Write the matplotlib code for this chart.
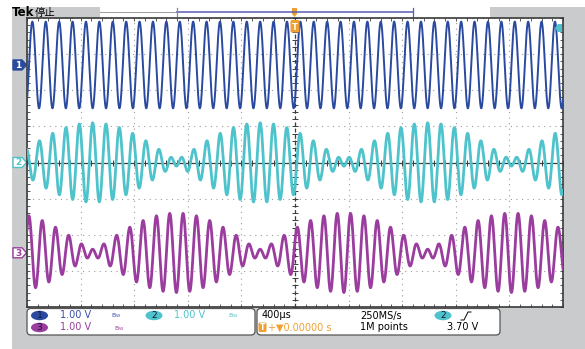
import numpy as np
import matplotlib.pyplot as plt
from matplotlib.patches import Rectangle, FancyBboxPatch, Polygon, Ellipse
from matplotlib.ticker import MultipleLocator

W, H = 585, 349

# scope settings
TIME_PER_DIV_MS = 0.4
N_HDIV, N_VDIV = 10, 8

# ch1: plain sine
CH1_FREQ_KHZ = 10.0
CH1_AMP_DIV = 1.2
CH1_OFFSET_DIV = 2.7
CH1_PEAK_DIV = 0.1

# ch2 / ch3: two tones, ch2 = sum, ch3 = difference (beats)
TONE_FREQS_KHZ = [10.4, 9.6]
TONE_AMPS_DIV = [0.6, 0.5]
TONE_REF_DIV = -0.65
CH2_OFFSET_DIV = 0.0
CH3_OFFSET_DIV = -2.5

CH_OFFSETS = [CH1_OFFSET_DIV, CH2_OFFSET_DIV, CH3_OFFSET_DIV]
CH_COLORS = ['#2a4aa0', '#4ec3cb', '#9a3d9e']
BG_GREY = '#c9cbcc'
ORANGE = '#f0a030'

# screen area in pixels (left, top, right, bottom)
SX0, SY0, SX1, SY1 = 27, 18, 563, 307

t_div = np.linspace(-N_HDIV / 2, N_HDIV / 2, 6000)
t_ms = t_div * TIME_PER_DIV_MS
ch1 = CH1_OFFSET_DIV + CH1_AMP_DIV * np.cos(2 * np.pi * CH1_FREQ_KHZ * (t_ms - CH1_PEAK_DIV * TIME_PER_DIV_MS))
tau = t_ms - TONE_REF_DIV * TIME_PER_DIV_MS
tone_a = TONE_AMPS_DIV[0] * np.cos(2 * np.pi * TONE_FREQS_KHZ[0] * tau)
tone_b = TONE_AMPS_DIV[1] * np.cos(2 * np.pi * TONE_FREQS_KHZ[1] * tau)
ch2 = CH2_OFFSET_DIV + tone_a + tone_b
ch3 = CH3_OFFSET_DIV + tone_a - tone_b

fig = plt.figure(figsize=(W / 100, H / 100), dpi=100, facecolor='white')

# background layer in pixel coordinates
bg = fig.add_axes([0, 0, 1, 1], zorder=0)
bg.set_xlim(0, W)
bg.set_ylim(H, 0)
bg.axis('off')
bg.add_patch(Rectangle((12, 7), W - 12, H - 7, color=BG_GREY, lw=0))
bg.add_patch(Rectangle((100, 7), 390, 11, color='white', lw=0))
bg.plot([100, 177], [12.3, 12.3], color='#9a9a9a', lw=0.7)
bg.plot([177, 413], [12.3, 12.3], color='#5b5bb5', lw=1.1)
bg.plot([177, 177], [8, 16], color='#8a8a8a', lw=0.9)
bg.plot([413, 413], [8, 16.5], color='#5b5bb5', lw=0.9)
bg.add_patch(Polygon([(292, 8), (297, 8), (297, 14), (294.5, 17), (292, 14)], color=ORANGE, lw=0))
bg.text(12, 12.8, 'Tek', fontsize=8.5, fontweight='bold', va='center', ha='left', color='black')
bg.text(35, 12.8, '停止', fontsize=7.5, va='center', ha='left', color='black',
        family=['Noto Sans CJK SC', 'DejaVu Sans'])

# channel ground markers on the left
div_px = (SY1 - SY0) / N_VDIV
for i, (off, col) in enumerate(zip(CH_OFFSETS, CH_COLORS)):
    yc = SY0 + (N_VDIV / 2 - off) * div_px
    filled = i == 0
    bg.add_patch(Polygon([(13, yc - 5), (22, yc - 5), (26.5, yc), (22, yc + 5), (13, yc + 5)],
                         facecolor=col if filled else 'white', edgecolor=col, lw=1.0))
    bg.text(18.5, yc + 0.3, str(i + 1), fontsize=6.5, ha='center', va='center',
            color='white' if filled else col, fontweight='bold')

# readout boxes
for x0, w in [(27, 228), (257, 243)]:
    bg.add_patch(FancyBboxPatch((x0, 308.5), w, 26.5, boxstyle='round,pad=0,rounding_size=4',
                                facecolor='white', edgecolor='#555555', lw=0.9))

r1, r2 = 315.5, 327.5
fs = 7
for (xc, yc, lab, col) in [(39.5, r1, '1', CH_COLORS[0]), (39.5, r2, '3', CH_COLORS[2]),
                           (154, r1, '2', CH_COLORS[1]), (443, r1, '2', CH_COLORS[1])]:
    bg.add_patch(Ellipse((xc, yc), 17, 9.5, facecolor=col, edgecolor='none'))
    bg.text(xc, yc + 0.3, lab, fontsize=6.5, ha='center', va='center', color='#15153a')
bg.text(60, r1, '1.00 V', fontsize=fs, va='center', color='#3a4ea8')
bg.text(60, r2, '1.00 V', fontsize=fs, va='center', color=CH_COLORS[2])
bg.text(174, r1, '1.00 V', fontsize=fs, va='center', color=CH_COLORS[1])
bg.text(111, r1, r'$\mathregular{B_W}$', fontsize=4.5, va='center', color='#3a4ea8')
bg.text(114, r2 + 1, r'$\mathregular{B_W}$', fontsize=4.5, va='center', color=CH_COLORS[2])
bg.text(228, r1, r'$\mathregular{B_W}$', fontsize=4.5, va='center', color=CH_COLORS[1])
bg.text(262, r1, '400µs', fontsize=fs, va='center', color='black')
bg.text(360, r1, '250MS/s', fontsize=fs, va='center', color='black')
bg.text(360, r2, '1M points', fontsize=fs, va='center', color='black')
bg.text(447, r2, '3.70 V', fontsize=fs, va='center', color='black')
bg.plot([461, 464, 468, 471], [320, 320, 312, 312], color='black', lw=0.7)
bg.add_patch(FancyBboxPatch((258.5, 322.5), 8, 9.5, boxstyle='round,pad=0,rounding_size=1.5',
                            facecolor=ORANGE, edgecolor='none'))
bg.text(262.5, r2 + 0.2, 'T', fontsize=5.5, ha='center', va='center', color='white', fontweight='bold')
bg.text(268, r2, '+▼0.00000 s', fontsize=fs, va='center', color=ORANGE)

# scope screen
ax = fig.add_axes([SX0 / W, (H - SY1) / H, (SX1 - SX0) / W, (SY1 - SY0) / H], zorder=1)
ax.set_facecolor('white')
ax.set_xlim(-N_HDIV / 2, N_HDIV / 2)
ax.set_ylim(-N_VDIV / 2, N_VDIV / 2)
for a in (ax.xaxis, ax.yaxis):
    a.set_major_locator(MultipleLocator(1))
    a.set_minor_locator(MultipleLocator(0.2))
ax.tick_params(which='both', direction='in', length=2.5, width=0.7, color='#555555',
               top=True, right=True, labelbottom=False, labelleft=False)
ax.grid(which='major', color='#9c9c9c', ls=(0, (1, 4)), lw=0.8)
for s in ax.spines.values():
    s.set_color('#3a3a3a')
    s.set_linewidth(1.2)

ax.axhline(0, color='#3c3c3c', lw=0.9, zorder=2)
ax.axvline(0, color='#3c3c3c', lw=0.9, ls=(0, (3, 2)), zorder=2)
yt = np.arange(-4, 4.01, 0.2)
xt = np.arange(-5, 5.01, 0.2)
ax.plot(np.zeros_like(yt), yt, ls='none', marker='_', ms=4, mew=0.7, color='#3c3c3c', zorder=2)
ax.plot(xt, np.zeros_like(xt), ls='none', marker='|', ms=4, mew=0.7, color='#3c3c3c', zorder=2)

ax.plot(t_div, ch1, color=CH_COLORS[0], lw=1.4, zorder=3)
ax.plot(t_div, ch2, color=CH_COLORS[1], lw=2.0, zorder=3)
ax.plot(t_div, ch3, color=CH_COLORS[2], lw=2.0, zorder=3)

# overlay markers inside the screen
ov = fig.add_axes([0, 0, 1, 1], zorder=2)
ov.set_xlim(0, W)
ov.set_ylim(H, 0)
ov.axis('off')
ov.patch.set_alpha(0)
ov.add_patch(FancyBboxPatch((290.5, 20), 9, 12.5, boxstyle='round,pad=0,rounding_size=1.5',
                            facecolor=ORANGE, edgecolor='none'))
ov.text(295, 27, 'T', fontsize=6, ha='center', va='center', color='white', fontweight='bold')
ov.add_patch(Polygon([(555, 28), (558, 24), (562, 24), (562, 32), (558, 32)],
                     facecolor=CH_COLORS[1], edgecolor='none'))

fig.savefig('out.png', dpi=100)
